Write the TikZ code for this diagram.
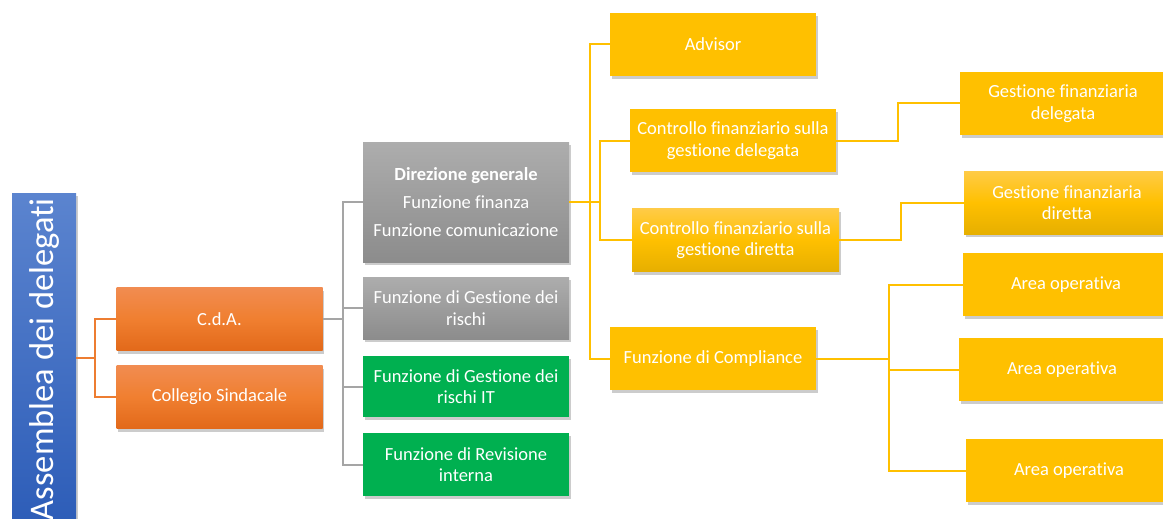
\documentclass[tikz,border=0pt]{standalone}
\usepackage{fontspec}
\setmainfont{Carlito}[Ligatures=NoCommon]
\usetikzlibrary{shadows}
\definecolor{ylw}{HTML}{FFC000}
\definecolor{orl}{HTML}{ED7D31}
\definecolor{gyl}{HTML}{A5A5A5}
\definecolor{grn}{HTML}{00B050}
\definecolor{otop}{HTML}{F18C51}
\definecolor{obot}{HTML}{E2691A}
\definecolor{omid}{HTML}{F07F30}
\definecolor{gtop}{HTML}{ADADAD}
\definecolor{gbot}{HTML}{8C8C8C}
\definecolor{ytop}{HTML}{FFCB47}
\definecolor{ybot}{HTML}{E6AF00}
\definecolor{btop}{HTML}{5B84CF}
\definecolor{bbot}{HTML}{2D5DB8}
\tikzset{
  box/.style={minimum width=206pt, minimum height=63pt, inner sep=2pt, align=center,
    text=white, font=\fontsize{18.5}{21.5}\selectfont,
    drop shadow={shadow xshift=1.5pt, shadow yshift=-3pt, fill=black, opacity=0.2}},
  obox/.style={box, top color=otop, bottom color=obot, middle color=omid},
  gbox/.style={box, top color=gtop, bottom color=gbot},
  grbox/.style={box, fill=grn},
  ybox/.style={box, fill=ylw},
  yshade/.style={box, top color=ytop, bottom color=ybot, middle color=ylw},
  oline/.style={draw=orl, line width=2pt},
  gline/.style={draw=gyl, line width=2pt},
  yline/.style={draw=ylw, line width=2pt},
}
\begin{document}
\begin{tikzpicture}[x=1pt,y=-1pt]
\useasboundingbox (0,0) rectangle (1163,519);
\begin{scope}
\clip (0,0) rectangle (1163,519);
\node[minimum width=64pt, minimum height=330pt, inner sep=0pt, top color=btop, bottom color=bbot,
  drop shadow={shadow xshift=1.5pt, shadow yshift=-3pt, fill=black, opacity=0.2}] (asm) at (44,358) {};
\node[rotate=90, anchor=east, inner sep=0pt, text=white, font=\fontsize{34.5}{40}\selectfont] (asmt) at (44,198) {Assemblea dei delegati};
\end{scope}

\node[obox] (cda) at (219.5,319) {C.d.A.};
\node[obox] (coll) at (219.5,397) {\raisebox{-1.5pt}{Collegio Sindacale}};

\node[gbox, minimum height=120pt, font=\fontsize{18.5}{28}\selectfont] (dir) at (466,202) {\textbf{Direzione generale}\\Funzione finanza\\Funzione comunicazione};
\node[gbox, minimum height=62pt] (risk) at (466,308) {Funzione di Gestione dei\\rischi};
\node[grbox, minimum height=61pt] (it) at (466,386.5) {Funzione di Gestione dei\\rischi IT};
\node[grbox] (rev) at (466,464.5) {Funzione di Revisione\\interna};

\node[ybox] (adv) at (713,44.5) {Advisor};
\node[ybox] (cfd) at (733,140.5) {Controllo finanziario sulla\\gestione delegata};
\node[yshade, minimum width=207pt] (cfr) at (735.5,240) {Controllo finanziario sulla\\gestione diretta};
\node[ybox] (comp) at (713,358.5) {Funzione di Compliance};

\node[ybox] (gfd) at (1063,103.5) {Gestione finanziaria\\delegata};
\node[yshade] (gfr) at (1067,202.5) {Gestione finanziaria\\diretta};
\node[ybox] (a1) at (1066,284.5) {Area operativa};
\node[ybox] (a2) at (1062,369.5) {Area operativa};
\node[ybox] (a3) at (1069,470.5) {Area operativa};

\draw[oline] (asm.east) -- ++(19,0) |- (cda.west);
\draw[oline] (asm.east) -- ++(19,0) |- (coll.west);

\draw[gline] (cda.east) -- ++(20,0) |- (dir.west);
\draw[gline] (cda.east) -- ++(20,0) |- (risk.west);
\draw[gline] (cda.east) -- ++(20,0) |- (it.west);
\draw[gline] (cda.east) -- ++(20,0) |- (rev.west);

\draw[yline] (dir.east) -- ++(21,0) |- (adv.west);
\draw[yline] (dir.east) -- ++(21,0) |- (comp.west);
\draw[yline] (dir.east) -- ++(31,0) |- (cfd.west);
\draw[yline] (dir.east) -- ++(31,0) |- (cfr.west);

\draw[yline] (cfd.east) -- ++(62,0) |- (gfd.west);
\draw[yline] (cfr.east) -- ++(62,0) |- (gfr.west);

\draw[yline] (comp.east) -- ++(73,0) |- (a1.west);
\draw[yline] (comp.east) -- ++(73,0) |- (a2.west);
\draw[yline] (comp.east) -- ++(73,0) |- (a3.west);
\end{tikzpicture}
\end{document}
